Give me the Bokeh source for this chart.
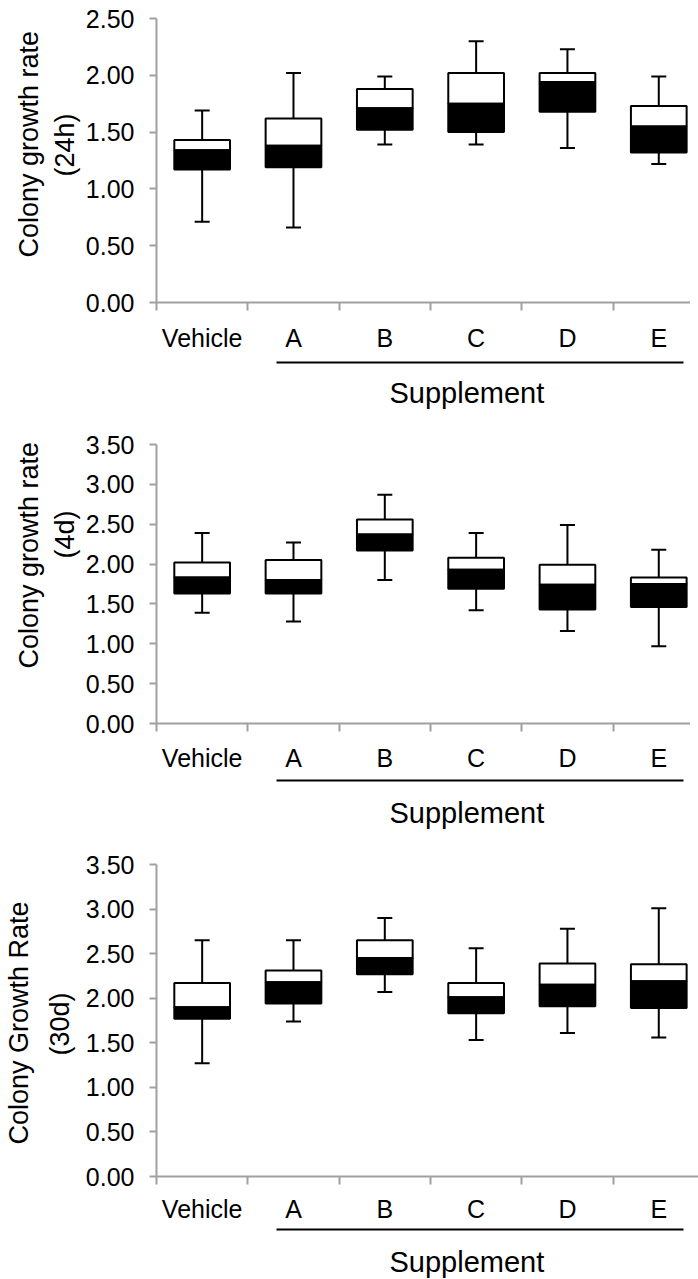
from bokeh.plotting import figure
from bokeh.models import (Range1d, LinearAxis, FixedTicker, Title,
                          ColumnDataSource, NumeralTickFormatter)
from bokeh.layouts import column
from bokeh.embed import file_html
from bokeh.resources import INLINE

# ---------------- data ----------------
groups = ["Vehicle", "A", "B", "C", "D", "E"]
supplement_label = "Supplement"
supplement_first, supplement_last = "A", "E"

# panel 1 : 24h
p1_title = ("Colony growth rate", "(24h)")
p1_yticks = [0.0, 0.5, 1.0, 1.5, 2.0, 2.5]
p1_min = [0.71, 0.66, 1.39, 1.39, 1.36, 1.22]
p1_q1 = [1.17, 1.19, 1.52, 1.50, 1.68, 1.32]
p1_med = [1.34, 1.38, 1.71, 1.75, 1.94, 1.55]
p1_q3 = [1.43, 1.62, 1.88, 2.02, 2.02, 1.73]
p1_max = [1.69, 2.02, 1.99, 2.30, 2.23, 1.99]

# panel 2 : 4d
p2_title = ("Colony growth rate", "(4d)")
p2_yticks = [0.0, 0.5, 1.0, 1.5, 2.0, 2.5, 3.0, 3.5]
p2_min = [1.39, 1.28, 1.80, 1.42, 1.16, 0.97]
p2_q1 = [1.63, 1.63, 2.17, 1.69, 1.43, 1.46]
p2_med = [1.83, 1.80, 2.37, 1.93, 1.74, 1.75]
p2_q3 = [2.02, 2.05, 2.56, 2.08, 1.99, 1.83]
p2_max = [2.39, 2.27, 2.87, 2.39, 2.49, 2.18]

# panel 3 : 30d
p3_title = ("Colony Growth Rate", "(30d)")
p3_yticks = [0.0, 0.5, 1.0, 1.5, 2.0, 2.5, 3.0, 3.5]
p3_min = [1.27, 1.74, 2.07, 1.53, 1.61, 1.56]
p3_q1 = [1.77, 1.94, 2.27, 1.83, 1.91, 1.89]
p3_med = [1.90, 2.18, 2.45, 2.01, 2.15, 2.19]
p3_q3 = [2.17, 2.31, 2.65, 2.17, 2.39, 2.38]
p3_max = [2.65, 2.65, 2.90, 2.56, 2.78, 3.01]

# ---------------- style ----------------
FONT = "Liberation Sans"
GRAY = "#a0a0a0"


def panel(title, yticks, mins, q1s, meds, q3s, maxs, frame_h, b_top, b_bottom,
          t1_off, t2_off, t_standoff, lab_so, spacer_so, line_so):
    xs = list(range(len(groups)))
    src = ColumnDataSource(dict(x=xs, lo=mins, q1=q1s, med=meds, q3=q3s, hi=maxs))
    p = figure(x_range=Range1d(-0.5, 5.435), y_range=Range1d(yticks[0], yticks[-1]),
               frame_width=542, frame_height=frame_h,
               min_border_left=148, min_border_right=0,
               min_border_top=b_top, min_border_bottom=b_bottom,
               x_axis_type=None, y_axis_type=None,
               output_backend="svg", toolbar_location=None)
    p.outline_line_color = None
    p.background_fill_color = "white"
    p.border_fill_color = "white"

    # whiskers
    p.segment(x0="x", y0="q3", x1="x", y1="hi", source=src, line_color="black", line_width=2)
    p.segment(x0="x", y0="lo", x1="x", y1="q1", source=src, line_color="black", line_width=2)
    p.scatter(x="x", y="hi", source=src, marker="dash", size=15, line_color="black", line_width=2)
    p.scatter(x="x", y="lo", source=src, marker="dash", size=15, line_color="black", line_width=2)
    # boxes
    p.vbar(x="x", width=0.61, bottom="med", top="q3", source=src,
           fill_color="white", line_color="black", line_width=2)
    p.vbar(x="x", width=0.61, bottom="q1", top="med", source=src,
           fill_color="black", line_color="black", line_width=2)

    # y axis
    yaxis = LinearAxis(ticker=FixedTicker(ticks=yticks),
                       formatter=NumeralTickFormatter(format="0.00"))
    yaxis.axis_line_color = GRAY
    yaxis.axis_line_width = 2
    yaxis.major_tick_out = 7
    yaxis.major_tick_in = 0
    yaxis.major_tick_line_color = GRAY
    yaxis.major_tick_line_width = 2
    yaxis.minor_tick_out = 0
    yaxis.minor_tick_in = 0
    yaxis.major_label_standoff = 15
    yaxis.major_label_text_font = FONT
    yaxis.major_label_text_font_size = "25px"
    yaxis.major_label_text_color = "black"
    p.add_layout(yaxis, "left")

    # y titles (two lines)
    t2 = Title(text=title[1], align="left", offset=t2_off, standoff=t_standoff,
               text_font=FONT, text_font_size="27px", text_font_style="normal",
               text_color="black")
    t1 = Title(text=title[0], align="left", offset=t1_off, standoff=2,
               text_font=FONT, text_font_size="27px", text_font_style="normal",
               text_color="black")
    p.add_layout(t2, "left")
    p.add_layout(t1, "left")

    # x axis: labels at centers, ticks between categories
    bounds_ticks = [x - 0.5 for x in xs] + [xs[-1] + 0.5]
    xaxis = LinearAxis(ticker=FixedTicker(ticks=xs, minor_ticks=bounds_ticks))
    xaxis.major_label_overrides = {x: g for x, g in zip(xs, groups)}
    xaxis.axis_line_color = GRAY
    xaxis.axis_line_width = 2
    xaxis.major_tick_out = 8
    xaxis.major_tick_in = 0
    xaxis.major_tick_line_color = None
    xaxis.minor_tick_out = 8
    xaxis.minor_tick_in = 0
    xaxis.minor_tick_line_color = GRAY
    xaxis.minor_tick_line_width = 2
    xaxis.major_label_standoff = lab_so
    xaxis.major_label_text_font = FONT
    xaxis.major_label_text_font_size = "25px"
    xaxis.major_label_text_color = "black"
    xaxis.axis_label = " "
    xaxis.axis_label_text_font_size = "1px"
    xaxis.axis_label_standoff = spacer_so
    p.add_layout(xaxis, "below")

    # bracket line under the supplement groups
    i0, i1 = groups.index(supplement_first), groups.index(supplement_last)
    laxis = LinearAxis(ticker=FixedTicker(ticks=[]), bounds=(i0 - 0.19, i1 + 0.27))
    laxis.axis_line_color = "black"
    laxis.axis_line_width = 2
    laxis.major_tick_out = 0
    laxis.major_tick_in = 0
    laxis.minor_tick_out = 0
    laxis.minor_tick_in = 0
    laxis.major_label_standoff = 0
    laxis.axis_label = " "
    laxis.axis_label_text_font_size = "1px"
    laxis.axis_label_standoff = line_so
    p.add_layout(laxis, "below")

    st = Title(text=supplement_label, align="left", offset=233, standoff=0,
               vertical_align="top",
               text_font=FONT, text_font_size="29px", text_font_style="normal",
               text_color="black")
    p.add_layout(st, "below")
    return p


f1 = panel(p1_title, p1_yticks, p1_min, p1_q1, p1_med, p1_q3, p1_max,
           284, 18, 122, 45, 126, 6, 13, 4, 10)
f2 = panel(p2_title, p2_yticks, p2_min, p2_q1, p2_med, p2_q3, p2_max,
           279, 20, 121, 55, 165, 6, 12, 2, 12)
f3 = panel(p3_title, p3_yticks, p3_min, p3_q1, p3_med, p3_q3, p3_max,
           312, 20, 100, 32, 121, 16, 10, 0, 12)

layout = column(f1, f2, f3, spacing=0)
open("out.html", "w").write(file_html(layout, INLINE))
